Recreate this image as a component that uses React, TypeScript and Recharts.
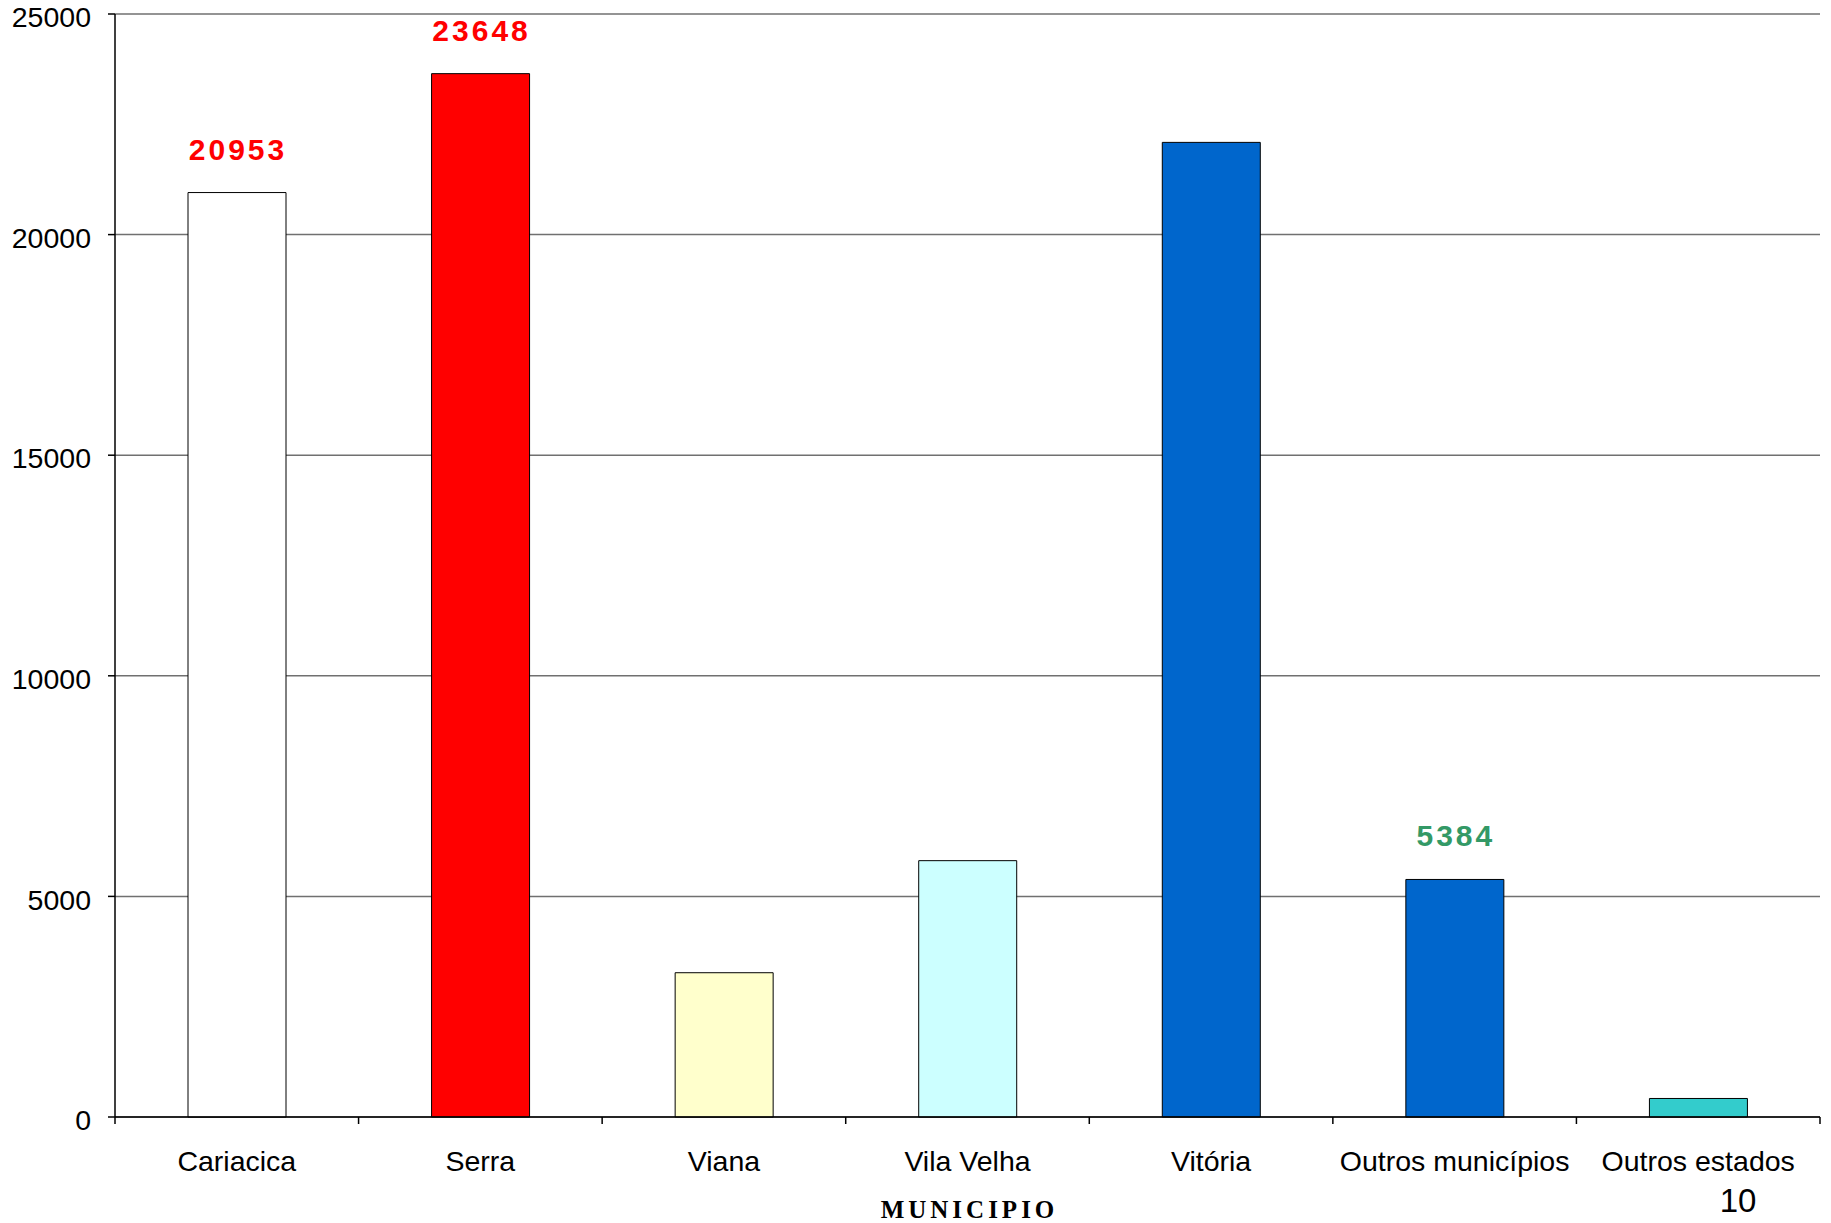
import { BarChart, Bar, XAxis, YAxis, CartesianGrid, Cell, LabelList } from 'recharts'

const categories = ['Cariacica', 'Serra', 'Viana', 'Vila Velha', 'Vitória', 'Outros municípios', 'Outros estados']
const values = [20953, 23648, 3270, 5810, 22090, 5384, 420]
const barColors = ['#FFFFFF', '#FF0000', '#FFFFCC', '#CCFFFF', '#0066CC', '#0066CC', '#33CCCC']
// só algumas barras têm rótulo no original
const labelColors: (string | null)[] = ['#FF0000', '#FF0000', null, null, null, '#339966', null]
const yTicks = [0, 5000, 10000, 15000, 20000, 25000]

const W = 1831
const H = 1223
const MARGIN = { top: 14, right: 11, left: 0, bottom: 0 }
const Y_AXIS_W = 115
const X_AXIS_H = 106
const SANS = "'Liberation Sans', Arial, sans-serif"
const SERIF = "'Liberation Serif', 'Times New Roman', serif"

const chartData = categories.map((name, i) => ({ name, value: values[i] }))

const bandFallback = (W - MARGIN.left - MARGIN.right - Y_AXIS_W) / categories.length / 2

function CategoryTick(props: any) {
  const { x, y, payload, index } = props
  const half = payload?.offset || bandFallback
  const last = index === categories.length - 1
  return (
    <g>
      <line x1={x - half} x2={x - half} y1={y} y2={y + 7} stroke="#000" strokeWidth={1.5} />
      {last && <line x1={x + half} x2={x + half} y1={y} y2={y + 7} stroke="#000" strokeWidth={1.5} />}
      <text x={x} y={y + 54} textAnchor="middle" fontSize={28.5} fontFamily={SANS} fill="#000">
        {payload.value}
      </text>
    </g>
  )
}

function ValueLabel(props: any) {
  const { x, y, width, value, index } = props
  const color = labelColors[index]
  if (!color) return null
  return (
    <text
      x={x + width / 2 + 1}
      y={y - 33}
      textAnchor="middle"
      fontSize={30}
      fontWeight="bold"
      fontFamily={SANS}
      letterSpacing={3}
      fill={color}
    >
      {value}
    </text>
  )
}

function AxisTitle(props: any) {
  const { viewBox } = props
  if (!viewBox) return null
  return (
    <text
      x={viewBox.x + viewBox.width / 2 + 2}
      y={viewBox.y + viewBox.height - 5}
      textAnchor="middle"
      fontSize={25}
      fontWeight="bold"
      fontFamily={SERIF}
      letterSpacing={4}
      fill="#000"
    >
      MUNICIPIO
    </text>
  )
}

export default function App() {
  return (
    <div style={{ position: 'absolute', left: 0, top: 0, width: W, height: H, background: '#fff' }}>
      <BarChart width={W} height={H} data={chartData} margin={MARGIN} barSize={98}>
        <CartesianGrid vertical={false} stroke="#707070" strokeWidth={1.5} />
        <XAxis
          dataKey="name"
          height={X_AXIS_H}
          interval={0}
          tickSize={0}
          tickMargin={0}
          tickLine={false}
          axisLine={{ stroke: '#000', strokeWidth: 1.5 }}
          tick={<CategoryTick />}
          label={<AxisTitle />}
        />
        <YAxis
          width={Y_AXIS_W}
          domain={[0, 25000]}
          ticks={yTicks}
          interval={0}
          tickSize={7}
          tickMargin={17}
          axisLine={{ stroke: '#000', strokeWidth: 1.5 }}
          tickLine={{ stroke: '#000', strokeWidth: 1.5 }}
          tick={{ fontSize: 28.5, fill: '#000', fontFamily: SANS, dy: 3 }}
        />
        <YAxis
          yAxisId="borda"
          orientation="right"
          width={0}
          tick={false}
          tickLine={false}
          axisLine={{ stroke: '#909090', strokeWidth: 1.5 }}
        />
        <Bar dataKey="value" stroke="#000" strokeWidth={1} isAnimationActive={false}>
          {chartData.map((d, i) => (
            <Cell key={d.name} fill={barColors[i]} />
          ))}
          <LabelList dataKey="value" content={<ValueLabel />} />
        </Bar>
      </BarChart>
      <svg width={W} height={H} style={{ position: 'absolute', left: 0, top: 0, pointerEvents: 'none' }}>
        <text x={1738} y={1212} textAnchor="middle" fontSize={33} fontFamily={SANS} fill="#000">
          10
        </text>
      </svg>
    </div>
  )
}
